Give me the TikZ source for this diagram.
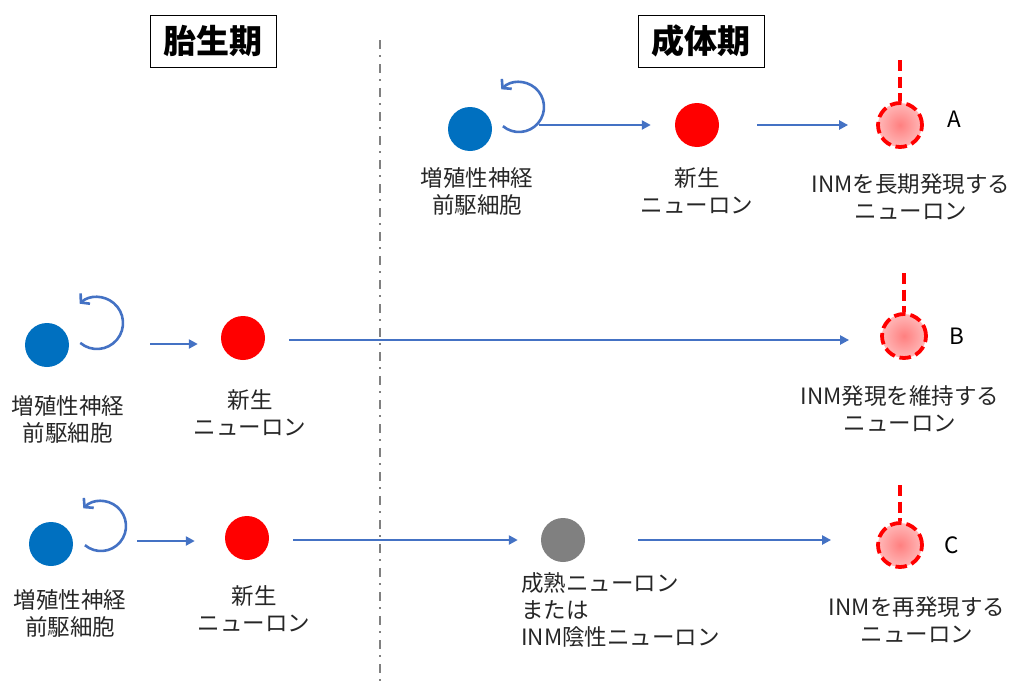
\documentclass[tikz,border=0pt]{standalone}
\usepackage{fontspec}
\setmainfont{Noto Sans CJK JP}
\usetikzlibrary{arrows.meta}
\definecolor{cblue}{HTML}{0070C0}
\definecolor{arrowblue}{HTML}{4472C4}
\definecolor{cgray}{HTML}{808080}
\definecolor{txt}{HTML}{262626}
\tikzset{
  cell/.style={circle, minimum size=44pt, inner sep=0pt},
  prog/.style={cell, fill=cblue},
  newn/.style={cell, fill=red},
  matn/.style={cell, fill=cgray},
  inm/.style={cell, draw=red, line width=3.8pt, dash pattern=on 11.5pt off 5pt,
    inner color=red!50, outer color=red!28},
  probe/.style={draw=red, line width=3.8pt, dash pattern=on 11pt off 5.5pt},
  flow/.style={draw=arrowblue, line width=2.6pt, -{Triangle[length=9pt,width=9pt]}},
  cyc/.style={draw=arrowblue, line width=2.6pt, -{Straight Barb[length=6pt,width=14pt,line width=2.6pt]}},
  lbl/.style={align=center, text=txt, inner sep=0pt, font=\fontsize{22.5}{27}\selectfont},
  lett/.style={text=black, inner sep=0pt, font=\fontsize{22.5}{27}\selectfont},
  title/.style={draw=black, line width=1pt, minimum width=126pt, minimum height=52pt,
    inner sep=0pt, font=\fontsize{33}{36}\selectfont\bfseries},
  divider/.style={draw=cgray, line width=1.6pt, dash pattern=on 9pt off 6pt on 2pt off 7pt}
}
\begin{document}
\begin{tikzpicture}[x=1pt,y=1pt]
\useasboundingbox (0,0) rectangle (1015,-688);
% titles
\node[title] (t1) at (213,-41) {胎生期};
\node[title] (t2) at (701,-41) {成体期};
\coordinate (dtop) at (380,-40);
\coordinate (dbot) at (380,-688);
\draw[divider] (dtop) -- (dbot);

% ---- Row A
\node[prog] (pA) at (470,-129) {};
\node[newn] (nA) at (697,-125) {};
\node[inm]  (iA) at (900,-125) {};
\coordinate (cA) at (519,-107);
\coordinate (qA) at (900,-60);
\draw[cyc] ([shift={(-130:25)}]cA) arc[start angle=-130, end angle=135, radius=25];
\draw[flow, shorten <=47pt, shorten >=24pt] (pA.east |- nA.west) -- (nA.west);
\draw[flow, shorten <=38pt, shorten >=28pt] (nA.east |- iA.west) -- (iA.west);
\draw[probe] (qA) -- (iA.north);
\node[lett] (lA) at (954,-119) {A};
\node[lbl] (tpA) at (477,-191.5) {増殖性神経\\前駆細胞};
\node[lbl] (tnA) at (697,-191) {新生\\ニューロン};
\node[lbl] (tiA) at (911,-197) {INMを長期発現する\\ニューロン};

% ---- Row B
\node[prog] (pB) at (47,-345) {};
\node[newn] (nB) at (243,-338) {};
\node[inm]  (iB) at (904,-336) {};
\coordinate (cB) at (97,-323);
\coordinate (qB) at (904,-273);
\draw[cyc] ([shift={(-130:26)}]cB) arc[start angle=-130, end angle=132, radius=26];
\draw[flow, shorten <=81pt, shorten >=23pt] (pB.east |- 0,-344) -- (nB.west |- 0,-344);
\draw[flow, shorten <=24pt, shorten >=31pt] (nB.east |- 0,-340) -- (iB.west |- 0,-340);
\draw[probe] (qB) -- (iB.north);
\node[lett] (lB) at (957,-336) {B};
\node[lbl] (tpB) at (68,-419.5) {増殖性神経\\前駆細胞};
\node[lbl] (tnB) at (250,-412.5) {新生\\ニューロン};
\node[lbl] (tiB) at (900,-408.5) {INM発現を維持する\\ニューロン};

% ---- Row C
\node[prog] (pC) at (51,-544) {};
\node[newn] (nC) at (247,-538) {};
\node[matn] (gC) at (563,-540) {};
\node[inm]  (iC) at (900,-545) {};
\coordinate (cC) at (101,-526);
\coordinate (qC) at (900,-485);
\draw[cyc] ([shift={(-130:25)}]cC) arc[start angle=-130, end angle=135, radius=25];
\draw[flow, shorten <=64pt, shorten >=30pt] (pC.east |- 0,-541) -- (nC.west |- 0,-541);
\draw[flow, shorten <=24pt, shorten >=23pt] (nC.east |- 0,-540) -- (gC.west |- 0,-540);
\draw[flow, shorten <=53pt, shorten >=45pt] (gC.east |- 0,-540) -- (iC.west |- 0,-540);
\draw[probe] (qC) -- (iC.north);
\node[lett] (lC) at (952,-545) {C};
\node[lbl] (tpC) at (70,-613.5) {増殖性神経\\前駆細胞};
\node[lbl] (tnC) at (254,-609) {新生\\ニューロン};
\node[lbl] (tiC) at (917,-620) {INMを再発現する\\ニューロン};
\node[lbl, align=left, anchor=west] (tgC) at (521,-610) {成熟ニューロン\\または\\INM陰性ニューロン};
\end{tikzpicture}
\end{document}
